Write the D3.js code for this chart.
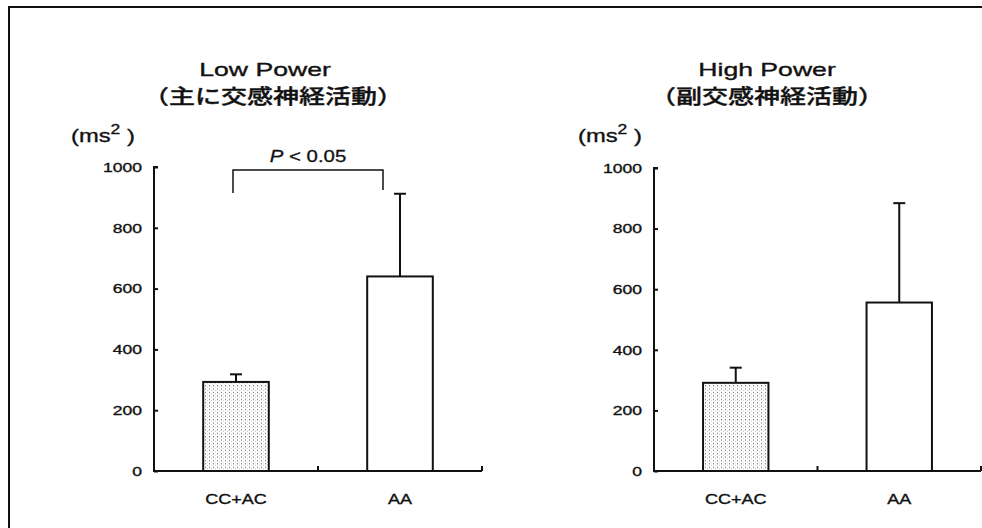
<!DOCTYPE html>
<html><head><meta charset="utf-8">
<script src="https://cdn.jsdelivr.net/npm/d3@7/dist/d3.min.js"></script>
<style>html,body{margin:0;padding:0;background:#fff;overflow:hidden;}svg{display:block;}</style>
</head><body>
<svg id="c" width="982" height="528"></svg>
<script>
// ---- data ----
const categories = ["CC+AC", "AA"];
const lowPowerMean = [293, 640];
const lowPowerSD = [25, 272];
const highPowerMean = [291, 556];
const highPowerSD = [50, 328];
const yTicks = [0, 200, 400, 600, 800, 1000];
const titlesEn = ["Low Power", "High Power"];
const titlesJa = ["（主に交感神経活動）", "（副交感神経活動）"];
const sigLabel = "P";
const sigRest = " < 0.05";

const svg = d3.select("#c");
const INK = "#111";
const LATIN = "'Liberation Sans', Arial, Helvetica, sans-serif";
const CJK = "'Noto Sans CJK JP', 'Noto Sans CJK SC', sans-serif";

// dotted fill pattern
const defs = svg.append("defs");
const pat = defs.append("pattern").attr("id", "dots").attr("patternUnits", "userSpaceOnUse")
  .attr("width", 4).attr("height", 3.4);
pat.append("rect").attr("width", 4).attr("height", 3.4).attr("fill", "#fff");
pat.append("rect").attr("x", 1).attr("y", 1).attr("width", 1).attr("height", 1).attr("fill", "#555");
pat.append("rect").attr("x", 3).attr("y", 2.5).attr("width", 0.8).attr("height", 0.8).attr("fill", "#aaa");

// outer frame: top and left edges only (the rest runs off the picture)
svg.append("path").attr("d", "M9,540V7H990").attr("fill", "none")
  .attr("stroke", INK).attr("stroke-width", 2);

// helper for horizontally stretched text
function stext(g, x, y, str, size, sx, anchor, family) {
  return g.append("text")
    .attr("transform", `translate(${x},${y}) scale(${sx},1)`)
    .attr("text-anchor", anchor)
    .attr("font-family", family || LATIN)
    .attr("font-size", size)
    .attr("fill", INK)
    .attr("stroke", INK).attr("stroke-width", 0.35)
    .text(str);
}

const panels = [
  { x0: 154, x1: 482, yBase: 471, yTop: 167, means: lowPowerMean, sds: lowPowerSD,
    unitX: 71, tcx: 265, jcx: 273, sig: true },
  { x0: 654, x1: 981, yBase: 471, yTop: 168, means: highPowerMean, sds: highPowerSD,
    unitX: 578, tcx: 767, jcx: 767, sig: false }
];

panels.forEach((p, pi) => {
  const g = svg.append("g");
  const x = d3.scaleBand().domain(categories).range([p.x0, p.x1]).paddingInner(0).paddingOuter(0);
  const y = d3.scaleLinear().domain([0, 1000]).range([p.yBase, p.yTop]);
  const bw = x.bandwidth() * 0.4;

  // bars with upper error bars
  categories.forEach((c, i) => {
    const cx = x(c) + x.bandwidth() / 2;
    const top = y(p.means[i]);
    const et = y(p.means[i] + p.sds[i]);
    g.append("line").attr("x1", cx).attr("x2", cx).attr("y1", top).attr("y2", et)
      .attr("stroke", INK).attr("stroke-width", 2);
    g.append("line").attr("x1", cx - 6).attr("x2", cx + 6).attr("y1", et).attr("y2", et)
      .attr("stroke", INK).attr("stroke-width", 2);
    g.append("rect").attr("x", cx - bw / 2).attr("y", top).attr("width", bw).attr("height", y(0) - top)
      .attr("fill", i === 0 ? "url(#dots)" : "#fff").attr("stroke", INK).attr("stroke-width", 2);
  });

  // y axis
  const ya = d3.axisRight(y).tickValues(yTicks).tickSize(4).tickFormat("");
  const yg = g.append("g").attr("transform", `translate(${p.x0},0)`).call(ya);
  yg.select(".domain").attr("d", `M4,${p.yTop}H0V${p.yBase}`).attr("stroke", INK).attr("stroke-width", 2);
  yg.selectAll(".tick line").attr("stroke", INK).attr("stroke-width", 2);
  yTicks.forEach(t => {
    stext(g, p.x0 - 12, y(t) + 4.7, String(t), 13, 1.35, "end");
  });

  // x axis
  g.append("line").attr("x1", p.x0 - 1).attr("x2", p.x1).attr("y1", y(0)).attr("y2", y(0))
    .attr("stroke", INK).attr("stroke-width", 2);
  categories.forEach(c => {
    const bx = x(c) + x.bandwidth();
    g.append("line").attr("x1", bx).attr("x2", bx).attr("y1", y(0)).attr("y2", y(0) - 5)
      .attr("stroke", INK).attr("stroke-width", 2);
    stext(g, x(c) + x.bandwidth() / 2, 504, c, 15, 1.2, "middle");
  });

  // titles
  stext(g, p.tcx, 76, titlesEn[pi], 19, 1.4, "middle");
  stext(g, p.jcx, 104, titlesJa[pi], 20, 1.3, "middle", CJK).attr("font-weight", 500);

  // unit label
  const u = g.append("text").attr("transform", `translate(${p.unitX},142) scale(1.25,1)`)
    .attr("font-family", LATIN).attr("font-size", 19).attr("fill", INK)
    .attr("stroke", INK).attr("stroke-width", 0.35);
  u.append("tspan").text("(ms");
  u.append("tspan").attr("dy", -8).attr("font-size", 14).text("2");
  u.append("tspan").attr("dy", 8).text(pi === 0 ? "  )" : " )");

  // significance bracket
  if (p.sig) {
    const xa = x(categories[0]) + x.bandwidth() / 2 - 3;
    const xb = x(categories[1]) + x.bandwidth() / 2 - 17;
    g.append("path").attr("d", `M${xa},193V170H${xb}V190`).attr("fill", "none")
      .attr("stroke", INK).attr("stroke-width", 1.5);
    const t = g.append("text").attr("transform", `translate(${(xa + xb) / 2},162) scale(1.2,1)`)
      .attr("text-anchor", "middle").attr("font-family", LATIN).attr("font-size", 17).attr("fill", INK)
      .attr("stroke", INK).attr("stroke-width", 0.3);
    t.append("tspan").attr("font-style", "italic").text(sigLabel);
    t.append("tspan").text(sigRest);
  }
});
</script>
</body></html>
